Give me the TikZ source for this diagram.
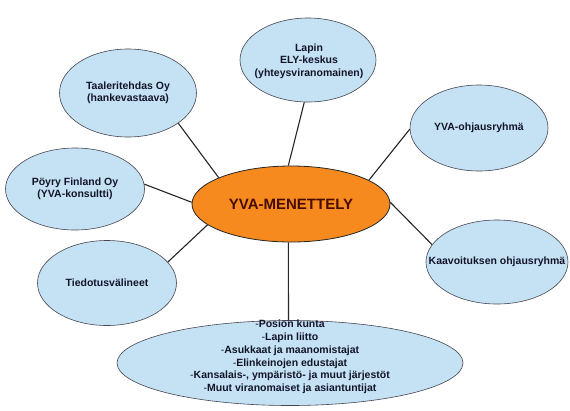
\documentclass[tikz,border=0pt]{standalone}
\usepackage{fontspec}
\setmainfont{Liberation Sans}
\usetikzlibrary{shapes.geometric}
\definecolor{paleblue}{RGB}{197,226,245}
\definecolor{orangefill}{RGB}{247,138,30}
\definecolor{maroontext}{RGB}{70,12,0}
\definecolor{rimgray}{RGB}{70,70,80}
\definecolor{inktext}{RGB}{20,20,40}
\begin{document}
\begin{tikzpicture}[x=1pt,y=-1pt,
  bubble/.style={ellipse, draw=rimgray, line width=0.6pt, fill=paleblue, inner sep=0pt},
  hub/.style={ellipse, draw=black!85, line width=0.8pt, fill=orangefill, inner sep=0pt},
  lbl/.style={align=center, font=\fontsize{10.5}{12.4}\selectfont\bfseries, text=inktext, inner sep=0pt},
  hublbl/.style={font=\fontsize{15}{18}\selectfont\bfseries, text=maroontext, inner sep=0pt},
  link/.style={draw=black!85, line width=1.1pt}]
\useasboundingbox[fill=white] (0,0) rectangle (570,410);

% ellipses
\node[hub, minimum width=198pt, minimum height=76pt] (hub) at (291,204) {};
\node[bubble, minimum width=136pt, minimum height=84pt] (lapin) at (308,60) {};
\node[bubble, minimum width=137pt, minimum height=88pt] (taal) at (128,93) {};
\node[bubble, minimum width=138pt, minimum height=86pt] (ohj) at (479,128) {};
\node[bubble, minimum width=139pt, minimum height=82pt] (poyry) at (75,189) {};
\node[bubble, minimum width=139pt, minimum height=85pt] (tied) at (107,283) {};
\node[bubble, minimum width=142pt, minimum height=84pt] (kaav) at (497,262) {};
\node[bubble, minimum width=346pt, minimum height=85pt] (muut) at (290,363) {};

% texts
\node[hublbl] (hubtxt) at (hub) {YVA-MENETTELY};
\node[lbl] (lapintxt) at (309,61) {Lapin\\ELY-keskus\\(yhteysviranomainen)};
\node[lbl] (taaltxt) at (taal) {Taaleritehdas Oy\\(hankevastaava)};
\node[lbl] (ohjtxt) at (ohj) {YVA-ohjausryhmä};
\node[lbl] (poyrytxt) at (poyry) {Pöyry Finland Oy\\(YVA-konsultti)};
\node[lbl] (tiedtxt) at (tied) {Tiedotusvälineet};
\node[lbl] (kaavtxt) at (kaav) {Kaavoituksen ohjausryhmä};
\node[lbl, font=\fontsize{10.5}{12.8}\selectfont\bfseries] (muuttxt) at (290,357)
  {{\mdseries -}Posion kunta\\{\mdseries -}Lapin liitto\\{\mdseries -}Asukkaat ja maanomistajat\\{\mdseries -}Elinkeinojen edustajat\\{\mdseries -}Kansalais-, ympäristö- ja muut järjestöt\\{\mdseries -}Muut viranomaiset ja asiantuntijat};

% connectors
\draw[link] (taal.-31.5) -- (hub.160.4);
\draw[link] (lapin.-95.4) -- (hub.94.6);
\draw[link] (ohj.181) -- (hub.17.3);
\draw[link] (poyry.4.9) -- (hub.179.4);
\draw[link] (tied.19.3) -- (hub.194.7);
\draw[link] (kaav.165.3) -- (hub.1.5);
\draw[link] (muut.92.7) -- (hub.-94.5);
\end{tikzpicture}
\end{document}
